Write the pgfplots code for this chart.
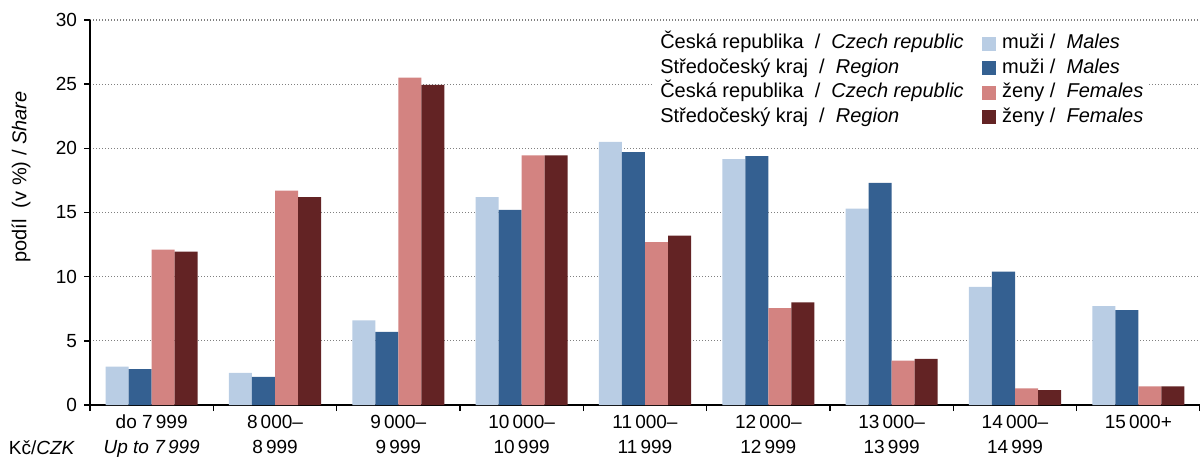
\documentclass[border=0pt]{standalone}
\usepackage{fontspec}
\setmainfont{Liberation Sans}
\usepackage{pgfplots}
\pgfplotsset{compat=1.18}
\definecolor{czm}{RGB}{185,205,228}
\definecolor{krm}{RGB}{52,96,145}
\definecolor{czz}{RGB}{211,131,129}
\definecolor{krz}{RGB}{99,35,36}
\pgfplotsset{sq/.style={legend image code/.code={\fill[##1, draw=none] (0pt,-3.5pt) rectangle (7pt,3.5pt); \path (10pt,0pt);}}}

\begin{document}
\begin{tikzpicture}[font=\fontsize{9.5}{12.5}\selectfont]
\begin{axis}[
  scale only axis, width=555pt, height=192.5pt,
  clip mode=individual,
  xmin=-0.5, xmax=8.5, ymin=0, ymax=30,
  ytick={0,5,...,30},
  ybar, bar width=0.1865,
  axis x line*=bottom, axis y line*=left,
  axis line style={line width=0.8pt, -},
  tick align=outside, major tick length=3pt, minor tick length=3pt,
  tick style={black, line width=0.8pt},
  xtick={0,...,8}, minor xtick={-0.5,0.5,...,8.5},
  major x tick style={draw=none},
  xticklabels={
    {do 7\,999\\\textit{Up to 7\,999}},
    {8\,000–\\8\,999},
    {9\,000–\\9\,999},
    {10\,000–\\10\,999},
    {11\,000–\\11\,999},
    {12\,000–\\12\,999},
    {13\,000–\\13\,999},
    {14\,000–\\14\,999},
    {15\,000+\\\phantom{0}}},
  xticklabel style={align=center, yshift=1.5pt, font=\fontsize{9.5}{12.5}\selectfont},
  yticklabel style={font=\fontsize{9.5}{12.5}\selectfont},
  /pgf/number format/assume math mode=true,
  ymajorgrids,
  grid style={gray, line width=0.6pt, dash pattern=on 0.6pt off 0.9pt},
  legend columns=2,
  legend cell align=left,
  legend style={at={(rel axis cs:0.508,0.975)}, anchor=north west,
    fill=white, draw=none, inner xsep=3pt, inner ysep=2pt,
    font=\fontsize{10}{12.5}\selectfont,
    nodes={inner sep=0pt, text height=7.4pt, text depth=2.4pt},
    row sep=2.45pt,
    /tikz/every even column/.append style={column sep=9pt}},
]
\addplot[forget plot, fill=czm, draw=none, bar shift=-0.28] coordinates
  {(0,3.0) (1,2.5) (2,6.6) (3,16.2) (4,20.5) (5,19.15) (6,15.3) (7,9.2) (8,7.7)};
\addplot[forget plot, fill=krm, draw=none, bar shift=-0.0933] coordinates
  {(0,2.8) (1,2.2) (2,5.7) (3,15.2) (4,19.7) (5,19.4) (6,17.3) (7,10.4) (8,7.4)};
\addplot[forget plot, fill=czz, draw=none, bar shift=0.0933] coordinates
  {(0,12.1) (1,16.7) (2,25.5) (3,19.45) (4,12.7) (5,7.55) (6,3.45) (7,1.3) (8,1.45)};
\addplot[forget plot, fill=krz, draw=none, bar shift=0.28] coordinates
  {(0,11.95) (1,16.2) (2,24.95) (3,19.45) (4,13.2) (5,8.0) (6,3.6) (7,1.15) (8,1.45)};

\addlegendimage{empty legend}
\addlegendentry{Česká republika\ \ /\ \ \textit{Czech republic}}
\addlegendimage{sq, fill=czm}
\addlegendentry{muži /\ \ \textit{Males}}
\addlegendimage{empty legend}
\addlegendentry{Středočeský kraj\ \ /\ \ \textit{Region}}
\addlegendimage{sq, fill=krm}
\addlegendentry{muži /\ \ \textit{Males}}
\addlegendimage{empty legend}
\addlegendentry{Česká republika\ \ /\ \ \textit{Czech republic}}
\addlegendimage{sq, fill=czz}
\addlegendentry{ženy /\ \ \textit{Females}}
\addlegendimage{empty legend}
\addlegendentry{Středočeský kraj\ \ /\ \ \textit{Region}}
\addlegendimage{sq, fill=krz}
\addlegendentry{ženy /\ \ \textit{Females}}

\coordinate (ll) at (rel axis cs:0,0);
\coordinate (ur) at (rel axis cs:1,1);
\end{axis}
\node[rotate=90, font=\fontsize{10}{12.5}\selectfont] at ([shift={(-34.5pt,114pt)}]ll) {podíl\ \ (v \%) / \textit{Share}};
\node at ([shift={(-24pt,-21.5pt)}]ll) {Kč/\textit{CZK}};
\pgfresetboundingbox
\path ([shift={(-45pt,-27pt)}]ll) rectangle ([shift={(0pt,10pt)}]ur);
\end{tikzpicture}
\end{document}
